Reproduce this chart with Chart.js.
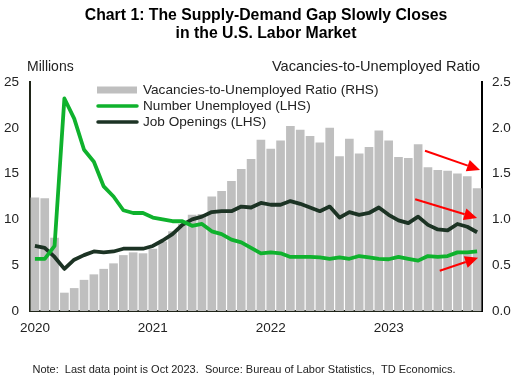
<!DOCTYPE html>
<html lang="en">
<head>
    <meta charset="UTF-8">
    <title>Chart 1: The Supply-Demand Gap Slowly Closes</title>
    <script src="https://cdn.jsdelivr.net/npm/chart.js"></script>
    <style>
        html, body { margin: 0; padding: 0; background: #fff; }
        #wrap { width: 516px; height: 385px; position: relative; }
    </style>
</head>
<body>
    <div id="wrap"><canvas id="gapChart"></canvas></div>

    <script>
        // Monthly data, Jan 2020 - Oct 2023
        const years = [2020, 2021, 2022, 2023];
        const lastMonth = 10; // Oct 2023

        // Vacancies-to-Unemployed Ratio (RHS)
        const ratio = [
            1.24, 1.23, 0.80, 0.20, 0.25, 0.34, 0.40, 0.46, 0.52, 0.61, 0.64, 0.63,
            0.68, 0.76, 0.87, 0.95, 1.05, 1.06, 1.25, 1.31, 1.42, 1.55, 1.66, 1.87,
            1.77, 1.86, 2.02, 1.98, 1.91, 1.84, 2.00, 1.69, 1.88, 1.72, 1.79, 1.97,
            1.86, 1.68, 1.67, 1.82, 1.57, 1.54, 1.53, 1.50, 1.47, 1.34
        ];
        // Number Unemployed, millions (LHS)
        const unemployed = [
            5.7, 5.7, 7.1, 23.2, 21.0, 17.6, 16.3, 13.6, 12.5, 11.0, 10.7, 10.7,
            10.2, 10.0, 9.8, 9.8, 9.3, 9.5, 8.7, 8.4, 7.8, 7.5, 6.9, 6.3,
            6.4, 6.3, 5.9, 5.9, 5.9, 5.85, 5.7, 5.85, 5.7, 6.0, 5.85, 5.7,
            5.65, 5.9, 5.7, 5.5, 6.0, 5.9, 6.0, 6.4, 6.4, 6.5
        ];
        // Job Openings, millions (LHS)
        const openings = [
            7.1, 6.9, 5.9, 4.6, 5.6, 6.1, 6.5, 6.4, 6.5, 6.8, 6.8, 6.8,
            7.1, 7.7, 8.4, 9.4, 10.0, 10.3, 10.8, 10.9, 10.9, 11.4, 11.3, 11.8,
            11.6, 11.6, 12.0, 11.7, 11.3, 10.9, 11.4, 10.2, 10.8, 10.5, 10.7, 11.3,
            10.5, 9.9, 9.6, 10.3, 9.4, 8.9, 8.8, 9.5, 9.2, 8.6
        ];

        const leftTicks = [0, 5, 10, 15, 20, 25];
        const rightTicks = [0, 0.5, 1.0, 1.5, 2.0, 2.5];

        // red arrows: [fromIndex, fromValue, toIndex, toValue, axis]
        const arrows = [
            [39.7, 1.75, 45.3, 1.54, 'y1'],
            [38.7, 12.2, 45.0, 10.15, 'y'],
            [41.2, 4.4, 45.1, 5.8, 'y']
        ];

        const labels = [];
        years.forEach(yr => {
            for (let m = 1; m <= 12; m++) {
                if (yr === years[years.length - 1] && m > lastMonth) break;
                labels.push(yr + '-' + String(m).padStart(2, '0'));
            }
        });

        const FONT = '"Liberation Sans", Arial, sans-serif';
        const GREEN = '#0fb22d';
        const DARK = '#1c3324';
        const BAR = '#bfbfbf';

        // Titles, axis captions, legend, note and arrows
        const overlay = {
            id: 'overlay',
            afterDatasetsDraw(chart) {
                const ctx = chart.ctx;
                const xs = chart.scales.x;
                ctx.save();
                // arrows
                ctx.strokeStyle = '#ff0000';
                ctx.fillStyle = '#ff0000';
                ctx.lineWidth = 2;
                arrows.forEach(a => {
                    const ys = chart.scales[a[4]];
                    const x1 = xs.getPixelForValue(a[0]), y1 = ys.getPixelForValue(a[1]);
                    const x2 = xs.getPixelForValue(a[2]), y2 = ys.getPixelForValue(a[3]);
                    const ang = Math.atan2(y2 - y1, x2 - x1);
                    const hl = 13, hw = 6;
                    const bx = x2 - hl * Math.cos(ang), by = y2 - hl * Math.sin(ang);
                    ctx.beginPath();
                    ctx.moveTo(x1, y1);
                    ctx.lineTo(bx, by);
                    ctx.stroke();
                    ctx.beginPath();
                    ctx.moveTo(x2, y2);
                    ctx.lineTo(bx + hw * Math.sin(ang), by - hw * Math.cos(ang));
                    ctx.lineTo(bx - hw * Math.sin(ang), by + hw * Math.cos(ang));
                    ctx.closePath();
                    ctx.fill();
                });
                ctx.restore();
            },
            afterDraw(chart) {
                const ctx = chart.ctx;
                ctx.save();
                ctx.fillStyle = '#000';
                ctx.textBaseline = 'middle';

                ctx.font = 'bold 15.8px ' + FONT;
                ctx.textAlign = 'center';
                ctx.fillText('Chart 1: The Supply-Demand Gap Slowly Closes', 266, 16);
                ctx.fillText('in the U.S. Labor Market', 266, 34);

                ctx.fillStyle = '#222';
                ctx.font = '14px ' + FONT;
                ctx.textAlign = 'left';
                ctx.fillText('Millions', 27, 67);
                ctx.font = '14.6px ' + FONT;
                ctx.textAlign = 'center';
                ctx.fillText('Vacancies-to-Unemployed Ratio', 376, 67);

                // legend
                const ds = chart.data.datasets;
                const rows = [90, 106, 122];
                ctx.font = '13.6px ' + FONT;
                ctx.textAlign = 'left';
                ds.forEach((d, i) => {
                    const y = rows[i];
                    if (d.type === 'bar') {
                        ctx.fillStyle = BAR;
                        ctx.fillRect(97, y - 3.5, 40, 7);
                    } else {
                        ctx.strokeStyle = d.borderColor;
                        ctx.lineWidth = 3.5;
                        ctx.lineCap = 'round';
                        ctx.beginPath();
                        ctx.moveTo(98, y);
                        ctx.lineTo(137, y);
                        ctx.stroke();
                    }
                    ctx.fillStyle = '#222';
                    ctx.fillText(d.label, 143, y);
                });

                ctx.font = '11px ' + FONT;
                ctx.textAlign = 'center';
                ctx.fillText('Note:  Last data point is Oct 2023.  Source: Bureau of Labor Statistics,  TD Economics.', 244, 370);
                ctx.restore();
            }
        };

        const ctx = document.getElementById('gapChart').getContext('2d');
        new Chart(ctx, {
            data: {
                labels,
                datasets: [
                    {
                        type: 'bar',
                        label: 'Vacancies-to-Unemployed Ratio (RHS)',
                        data: ratio,
                        yAxisID: 'y1',
                        backgroundColor: BAR,
                        categoryPercentage: 1,
                        barPercentage: 0.88,
                        order: 3,
                    },
                    {
                        type: 'line',
                        label: 'Number Unemployed (LHS)',
                        data: unemployed,
                        yAxisID: 'y',
                        borderColor: GREEN,
                        borderWidth: 3.8,
                        pointRadius: 0,
                        tension: 0,
                        borderJoinStyle: 'round',
                        order: 1,
                    },
                    {
                        type: 'line',
                        label: 'Job Openings (LHS)',
                        data: openings,
                        yAxisID: 'y',
                        borderColor: DARK,
                        borderWidth: 3.8,
                        pointRadius: 0,
                        tension: 0,
                        borderJoinStyle: 'round',
                        order: 2,
                    },
                ],
            },
            options: {
                responsive: true,
                maintainAspectRatio: false,
                animation: false,
                layout: { padding: { top: 82, left: 0, right: 0, bottom: 0 } },
                plugins: {
                    legend: { display: false },
                    tooltip: { enabled: false },
                },
                scales: {
                    x: {
                        offset: true,
                        grid: { display: false, drawTicks: false },
                        border: { display: true, color: '#1f2418', width: 2 },
                        ticks: {
                            autoSkip: false,
                            maxRotation: 0,
                            padding: 9,
                            color: '#222',
                            font: { family: FONT, size: 13.5 },
                            callback: (v, i) => labels[i].endsWith('-01') ? labels[i].slice(0, 4) : '',
                        },
                        afterFit: s => { s.height = 74; },
                    },
                    y: {
                        position: 'left',
                        min: 0,
                        max: 25,
                        afterBuildTicks: s => { s.ticks = leftTicks.map(v => ({ value: v })); },
                        grid: { display: false, drawTicks: false },
                        border: { display: true, color: '#1f2418', width: 2 },
                        ticks: {
                            padding: 11,
                            color: '#222',
                            font: { family: FONT, size: 13.5 },
                        },
                        afterFit: s => { s.width = 30; },
                    },
                    y1: {
                        position: 'right',
                        min: 0,
                        max: 2.5,
                        afterBuildTicks: s => { s.ticks = rightTicks.map(v => ({ value: v })); },
                        grid: { display: false, drawTicks: false },
                        border: { display: true, color: '#000', width: 2 },
                        ticks: {
                            padding: 10,
                            color: '#222',
                            font: { family: FONT, size: 13.5 },
                            callback: v => Number(v).toFixed(1),
                        },
                        afterFit: s => { s.width = 34; },
                    },
                },
            },
            plugins: [overlay],
        });
    </script>
</body>
</html>
